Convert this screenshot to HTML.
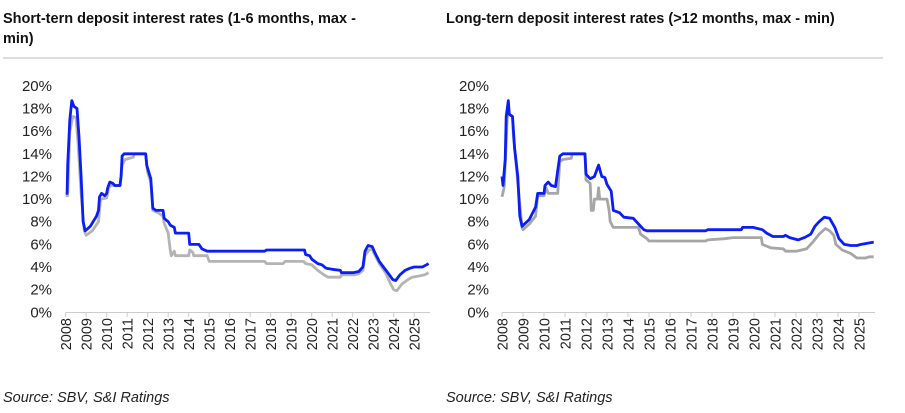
<!DOCTYPE html>
<html><head><meta charset="utf-8"><style>
html,body{margin:0;padding:0;background:#fff;width:905px;height:413px;overflow:hidden;font-family:"Liberation Sans",Arial,sans-serif}
</style></head><body>
<svg id="s" width="905" height="413" xmlns="http://www.w3.org/2000/svg" font-family="Liberation Sans, Arial, sans-serif">
<text x="3" y="23" font-size="14.5" font-weight="bold" fill="#111">Short-tern deposit interest rates (1-6 months, max -</text>
<text x="3" y="43" font-size="14.5" font-weight="bold" fill="#111">min)</text>
<text x="446" y="23" font-size="14.5" font-weight="bold" fill="#111">Long-tern deposit interest rates (&gt;12 months, max - min)</text>
<line x1="3" y1="58" x2="450" y2="58" stroke="#bbb" stroke-width="1"/>
<line x1="440" y1="58" x2="883" y2="58" stroke="#bbb" stroke-width="1"/>
<text x="3" y="402" font-size="14.5" font-style="italic" fill="#222">Source: SBV, S&amp;I Ratings</text>
<text x="446" y="402" font-size="14.5" font-style="italic" fill="#222">Source: SBV, S&amp;I Ratings</text>
<g id="g"></g>
</svg>
<script>
var NS="http://www.w3.org/2000/svg",g=document.getElementById('g');
function el(t,a,txt){var e=document.createElementNS(NS,t);for(var k in a)e.setAttribute(k,a[k]);if(txt)e.textContent=txt;g.appendChild(e);return e;}
function chart(x0,sp,xend,labx,series){
 var Y=function(v){return 312.3-v*11.32;};
 for(var i=0;i<=10;i++){el('text',{x:labx,y:Y(i*2)+5,'font-size':15,'text-anchor':'end',fill:'#222'},(i*2)+'%');}
 el('line',{x1:x0,y1:312.5,x2:xend,y2:312.5,stroke:'#ccc','stroke-width':1});
 for(var y=0;y<18;y++){var x=x0+y*sp;el('line',{x1:x,y1:312.5,x2:x,y2:317,stroke:'#ccc','stroke-width':1});
  el('text',{x:0,y:0,'font-size':14.5,'text-anchor':'end',fill:'#222',transform:'translate('+(x+5.5)+',318) rotate(-90)'},''+(2008+y));}
 series.forEach(function(s){var d=s.p.map(function(p,i){return (i?'L':'M')+(x0+(p[0]-2008)*sp).toFixed(1)+','+Y(p[1]).toFixed(1);}).join('');
  el('path',{d:d,fill:'none',stroke:s.c,'stroke-width':2.8,'stroke-linejoin':'round'});});
}
function P(a){var r=[];for(var i=0;i<a.length;i+=2)r.push([a[i],a[i+1]]);return r;}
var lb=P([2008,10.5,2008.07,10.5,2008.1,13,2008.2,17,2008.3,18.7,2008.4,18.2,2008.55,18,2008.65,15.5,2008.75,12,2008.85,8,2008.95,7.2,2009.2,7.6,2009.5,8.5,2009.6,9,2009.65,10.2,2009.75,10.5,2009.9,10.3,2010,10.5,2010.05,11,2010.15,11.5,2010.3,11.4,2010.4,11.2,2010.65,11.2,2010.7,12,2010.75,13.8,2010.85,14,2011.9,14,2011.95,13,2012.05,12.4,2012.15,11.8,2012.25,9.2,2012.4,9,2012.75,9,2012.8,8.3,2013,8,2013.1,7.7,2013.3,7.5,2013.35,7,2014,7,2014.05,6,2014.5,6,2014.65,5.6,2014.9,5.4,2017.7,5.4,2017.8,5.5,2019.65,5.5,2019.7,5.1,2019.9,5,2020,4.7,2020.3,4.3,2020.5,4.2,2020.7,3.9,2021,3.8,2021.4,3.7,2021.45,3.5,2022,3.5,2022.3,3.6,2022.5,4,2022.6,5.4,2022.75,5.9,2022.95,5.8,2023.1,5.2,2023.3,4.5,2023.5,4,2023.75,3.4,2023.95,2.9,2024.1,2.8,2024.3,3.3,2024.55,3.7,2024.8,3.9,2025,4,2025.4,4,2025.6,4.2,2025.7,4.3]);
var lg=P([2008,10.3,2008.1,10.3,2008.2,16,2008.35,17.3,2008.5,17.2,2008.6,15,2008.75,10.5,2008.9,7.2,2009,6.8,2009.3,7.2,2009.6,8,2009.7,10,2010,10.1,2010.1,11,2010.2,11.2,2010.65,11.2,2010.75,13,2010.9,13.5,2011.3,13.7,2011.35,14,2011.9,14,2012,12.3,2012.15,11.5,2012.25,9,2012.5,8.8,2012.75,8.5,2012.8,7.9,2013,7,2013.1,5.5,2013.15,5,2013.3,5.4,2013.35,5,2014,5,2014.05,5.5,2014.2,5.3,2014.25,5,2014.9,5,2015,4.5,2017.7,4.5,2017.8,4.3,2018.6,4.3,2018.7,4.5,2019.6,4.5,2019.7,4.3,2020,4.2,2020.3,3.7,2020.6,3.3,2020.8,3.1,2021.4,3.1,2021.45,3.3,2022.1,3.3,2022.3,3.4,2022.5,3.7,2022.6,5,2022.8,5.5,2022.95,5.6,2023.1,5,2023.3,4.3,2023.6,3.5,2023.85,2.5,2024,2,2024.15,1.9,2024.4,2.5,2024.7,2.9,2024.9,3.1,2025.2,3.2,2025.5,3.3,2025.7,3.5]);
var rb=P([2008,12,2008.05,11.2,2008.15,13.5,2008.2,17.3,2008.3,18.7,2008.35,17.5,2008.5,17.3,2008.6,14.5,2008.75,12,2008.85,8.5,2008.95,7.6,2009.3,8.2,2009.6,9.3,2009.7,10.5,2010,10.5,2010.05,11.2,2010.2,11.5,2010.35,11.2,2010.55,11.1,2010.65,12.5,2010.75,13.8,2010.9,14,2011.95,14,2012,12.2,2012.2,11.8,2012.4,12,2012.6,13,2012.75,12,2012.9,11.9,2013,11.3,2013.2,10.7,2013.3,9,2013.6,8.8,2013.8,8.4,2014.25,8.3,2014.5,7.8,2014.75,7.3,2014.9,7.2,2017.7,7.2,2017.8,7.3,2019.4,7.3,2019.45,7.5,2019.95,7.5,2020.4,7.3,2020.6,7,2020.9,6.7,2021.4,6.7,2021.5,6.8,2021.7,6.6,2022.1,6.4,2022.4,6.6,2022.7,6.9,2022.9,7.6,2023.1,8,2023.35,8.4,2023.6,8.3,2023.85,7.5,2024.05,6.5,2024.3,6,2024.6,5.9,2024.9,5.9,2025.1,6,2025.4,6.1,2025.7,6.2]);
var rg=P([2008,10.2,2008.1,11,2008.15,13,2008.25,17.3,2008.35,17.5,2008.5,17.3,2008.55,15.5,2008.7,12.5,2008.85,9.5,2008.95,7.5,2009,7.3,2009.3,7.8,2009.6,8.5,2009.7,10.3,2010,10.3,2010.1,11,2010.2,10.5,2010.65,10.5,2010.75,13.3,2010.9,13.5,2011.3,13.6,2011.35,14,2011.95,14,2012,11.7,2012.2,11.4,2012.25,9,2012.35,9,2012.4,10,2012.55,10,2012.6,11,2012.65,10,2013,10,2013.1,9,2013.15,8,2013.3,7.5,2014.5,7.5,2014.6,6.9,2014.9,6.5,2015,6.3,2017.7,6.3,2017.8,6.4,2018.6,6.5,2019,6.6,2020.35,6.6,2020.4,6,2020.8,5.7,2021.4,5.6,2021.5,5.4,2022,5.4,2022.5,5.6,2022.8,6.2,2023.1,6.9,2023.4,7.4,2023.6,7.2,2023.8,6.8,2023.9,6,2024.2,5.5,2024.6,5.2,2024.9,4.8,2025.3,4.8,2025.5,4.9,2025.7,4.9]);
chart(65.7,20.5,430,52,[{p:lg,c:'#b4b4b4'},{p:lb,c:'#0a1ef5'}]);
chart(502,21,875,489,[{p:rg,c:'#a6a6a6'},{p:rb,c:'#0a1ef5'}]);
</script>
</body></html>
